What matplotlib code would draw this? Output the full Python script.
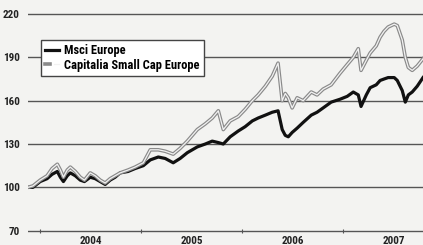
import pandas as pd
import matplotlib
matplotlib.use("Agg")
import matplotlib.pyplot as plt
import matplotlib.dates as mdates
from matplotlib import font_manager
from matplotlib.legend_handler import HandlerTuple

fechas = ["2003-11-18", "2003-12-06", "2004-01-01", "2004-01-26", "2004-02-13",
          "2004-03-03", "2004-03-14", "2004-03-25", "2004-04-08", "2004-04-19",
          "2004-05-07", "2004-05-25", "2004-06-09", "2004-06-30", "2004-07-18",
          "2004-08-05", "2004-08-23", "2004-09-10", "2004-09-28", "2004-10-16",
          "2004-11-14", "2004-12-09", "2005-01-08", "2005-02-02", "2005-03-03",
          "2005-03-28", "2005-04-26", "2005-05-21", "2005-06-16", "2005-07-22",
          "2005-08-20", "2005-09-14", "2005-10-06", "2005-10-24", "2005-11-18",
          "2005-12-17", "2006-01-11", "2006-02-06", "2006-02-27", "2006-03-25",
          "2006-04-19", "2006-05-10", "2006-05-25", "2006-06-05", "2006-06-16",
          "2006-06-30", "2006-07-18", "2006-08-09", "2006-09-07", "2006-09-28",
          "2006-10-20", "2006-11-18", "2006-12-20", "2007-01-15", "2007-02-06",
          "2007-02-24", "2007-03-06", "2007-03-25", "2007-04-08", "2007-04-30",
          "2007-05-14", "2007-05-28", "2007-06-12", "2007-07-04", "2007-07-15",
          "2007-08-02", "2007-08-13", "2007-08-24", "2007-09-07", "2007-09-25",
          "2007-10-16"]

capitalia = [100, 101, 105, 108, 113, 116, 112, 107, 112, 114,
             111, 107, 105, 110, 108, 105, 103, 106, 108, 110,
             112, 114, 117, 126, 126, 125, 123, 127, 132, 140,
             144, 148, 153, 140, 146, 149, 154, 160, 164, 170,
             177, 186, 160, 165, 162, 155, 162, 160, 166, 164,
             168, 171, 179, 185, 190, 196, 181, 188, 193, 198,
             204, 208, 211, 213, 212, 202, 190, 183, 181, 184,
             189]

msci = [100, 100, 104, 106, 109, 111, 107, 104, 108, 110,
        108, 105, 104, 107, 106, 104, 102, 105, 107, 110,
        111, 113, 115, 119, 121, 120, 117, 120, 124, 128,
        130, 132, 131, 130, 135, 139, 142, 146, 148, 150,
        152, 153, 140, 136, 135, 138, 141, 145, 150, 152,
        155, 159, 161, 163, 166, 164, 156, 164, 169, 171,
        174, 175, 176, 176, 174, 167, 159, 164, 166, 170,
        176]

anios = ["2004", "2005", "2006", "2007"]
valores_y = [70, 100, 130, 160, 190, 220]

# buscar una fuente estrecha (condensed) si hay alguna instalada
fuente_estrecha = None
estirar = "normal"
for f in font_manager.fontManager.ttflist:
    if f.name in ("Liberation Sans Narrow", "DejaVu Sans Condensed", "Roboto Condensed",
                  "Noto Sans Condensed", "Open Sans Condensed"):
        fuente_estrecha = f.name
        break
if fuente_estrecha is None:
    for f in font_manager.fontManager.ttflist:
        if f.name in ("Noto Sans", "Open Sans", "Roboto") and f.stretch in ("condensed", "semi-condensed", 75, 87.5, 100 - 25):
            fuente_estrecha = f.name
            estirar = "condensed"
            break

if fuente_estrecha is None:
    fuente = ["Liberation Sans", "DejaVu Sans"]
    escala = 0.84
else:
    fuente = [fuente_estrecha, "DejaVu Sans"]
    escala = 1.0

plt.rcParams["font.family"] = fuente
plt.rcParams["font.weight"] = "bold"
plt.rcParams["font.stretch"] = estirar

x = pd.to_datetime(fechas)

fig = plt.figure(figsize=(4.23, 2.45), dpi=100)
fig.patch.set_facecolor("#f3f3f1")
ax = fig.add_axes([28 / 423, 1 - 235 / 245, 1 - 28 / 423, (235 - 9.7) / 245])
ax.set_facecolor("#f3f3f1")

linea_msci, = ax.plot(x, msci, color="#111111", lw=2.3, zorder=3)
gris_ext, = ax.plot(x, capitalia, color="#8a8a8a", lw=2.6, zorder=4)
gris_int, = ax.plot(x, capitalia, color="#f2f2f2", lw=0.9, zorder=5)

ax.set_ylim(67, 223)
ax.set_xlim(pd.Timestamp("2003-11-18"), pd.Timestamp("2007-10-16"))
ax.set_yticks(valores_y)
ax.set_yticklabels([str(v) for v in valores_y])
ax.grid(axis="y", color="#555555", lw=1.0)
ax.set_axisbelow(True)
for s in ax.spines.values():
    s.set_visible(False)
ax.tick_params(axis="y", length=0, pad=6, labelsize=8 * escala, colors="#222222")

# ticks de año sobre la linea de 70, etiquetas a mitad de año
ax.xaxis.set_major_locator(mdates.YearLocator())
ax.xaxis.set_major_formatter(plt.NullFormatter())
ax.xaxis.set_minor_locator(mdates.MonthLocator(bymonth=7, bymonthday=1))
ax.xaxis.set_minor_formatter(plt.FixedFormatter(anios))
ax.spines["bottom"].set_position(("data", 70))
ax.tick_params(axis="x", which="major", length=3, direction="inout", color="#555555", pad=0)
ax.tick_params(axis="x", which="minor", length=0, pad=4, labelsize=8 * escala, colors="#222222")

leg = ax.legend([linea_msci, (gris_ext, gris_int)],
                ["Msci Europe", "Capitalia Small Cap Europe"],
                handler_map={tuple: HandlerTuple(ndivide=None)},
                loc="upper left", bbox_to_anchor=(41 / 423, 1 - 40 / 245),
                bbox_transform=fig.transFigure, borderaxespad=0,
                fancybox=False, framealpha=1, edgecolor="#444444",
                facecolor="white", fontsize=9 * escala, handlelength=1.1,
                handletextpad=0.4, labelspacing=0.1, borderpad=0.35)
leg.get_frame().set_linewidth(1.0)
leg.set_zorder(10)

fig.savefig("out.png", dpi=100, facecolor=fig.get_facecolor())
